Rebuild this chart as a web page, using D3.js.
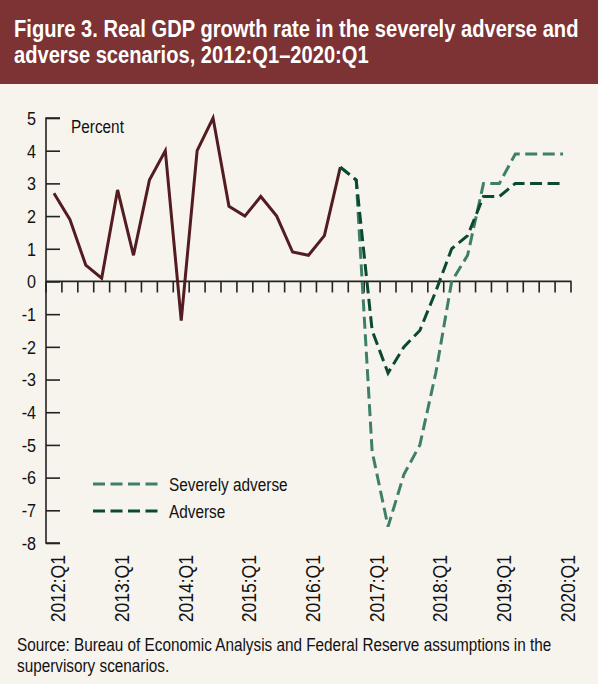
<!DOCTYPE html>
<html>
<head>
<meta charset="utf-8">
<script src="https://cdn.jsdelivr.net/npm/d3@7.9.0/dist/d3.min.js"></script>
<style>
  body { margin: 0; background: #f7f4ee; }
  svg text { font-family: "Liberation Sans", Arial, sans-serif; fill: #111; }
</style>
</head>
<body>
<svg id="chart" width="598" height="684"></svg>
<script>
// quarters 2012:Q1 .. 2020:Q1
const quarters = [];
for (let y = 2012; y <= 2020; y++) {
  for (let q = 1; q <= 4; q++) {
    if (y === 2020 && q > 1) break;
    quarters.push(`${y}:Q${q}`);
  }
}
const yearLabels = ["2012:Q1", "2013:Q1", "2014:Q1", "2015:Q1", "2016:Q1",
                    "2017:Q1", "2018:Q1", "2019:Q1", "2020:Q1"];
const yTicks = [5, 4, 3, 2, 1, 0, -1, -2, -3, -4, -5, -6, -7, -8];

// history 2012:Q1 - 2016:Q3
const history = [2.7, 1.9, 0.5, 0.1, 2.8, 0.8, 3.1, 4.0, -1.2, 4.0, 5.0, 2.3,
                 2.0, 2.6, 2.0, 0.9, 0.8, 1.4, 3.5];
// scenarios 2016:Q3 - 2020:Q1
const severelyAdverse = [3.5, 3.1, -5.2, -7.5, -5.9, -5.0, -2.8, 0.0, 0.8,
                         3.0, 3.0, 3.9, 3.9, 3.9, 3.9];
const adverse = [3.5, 3.1, -1.5, -2.8, -2.0, -1.5, -0.3, 1.0, 1.4,
                 2.6, 2.6, 3.0, 3.0, 3.0, 3.0];

const svg = d3.select('#chart');

// condensed text: the reference uses a narrow face, so squeeze horizontally
function addText(tx, ty, str, size, sx, rot) {
  return svg.append('text')
    .attr('transform', `translate(${tx},${ty})${rot ? ` rotate(${rot})` : ''} scale(${sx},1)`)
    .style('font-size', size + 'px')
    .text(str);
}

// header band
svg.append('rect').attr('x', 0).attr('y', 0).attr('width', 598).attr('height', 84)
  .attr('fill', '#7d3233');
const titleLines = ["Figure 3. Real GDP growth rate in the severely adverse and",
                    "adverse scenarios, 2012:Q1\u20132020:Q1"];
titleLines.forEach((t, i) => {
  addText(14, 37 + i * 26, t, 23, 0.875)
    .style('fill', '#fff')
    .style('font-weight', 'bold');
});

const x = d3.scaleBand().domain(quarters).range([46, 571]);
const y = d3.scaleLinear().domain([-8, 5]).range([543, 118]);
const cx = (q) => x(q) + x.bandwidth() / 2;

// y axis: vertical line with inward ticks
const yAxis = d3.axisRight(y).tickValues(yTicks).tickSize(14).tickFormat('');
const gy = svg.append('g').attr('transform', 'translate(46,0)').call(yAxis);
gy.select('.domain').attr('d', `M14,${y(5)}H0V${y(-8)}H14`);
gy.selectAll('line, path').attr('stroke', '#222').attr('stroke-width', 1.6);

yTicks.forEach(v => {
  addText(36, y(v), v, 19, 0.85)
    .attr('dy', '0.36em')
    .attr('text-anchor', 'end');
});

// zero line with quarterly ticks
const xTicks = quarters.map(q => x(q)).concat([x.range()[1]]);
const zero = svg.append('g');
zero.append('line')
  .attr('x1', 46).attr('x2', 571.5).attr('y1', y(0)).attr('y2', y(0))
  .attr('stroke', '#222').attr('stroke-width', 1.8);
zero.selectAll('line.tk').data(xTicks).join('line').attr('class', 'tk')
  .attr('x1', d => d).attr('x2', d => d)
  .attr('y1', y(0)).attr('y2', y(0) + 11)
  .attr('stroke', '#222').attr('stroke-width', 1.6);

// x labels
yearLabels.forEach(l => {
  addText(cx(l) + 4.5, 555, l, 19.5, 0.9, -90)
    .attr('text-anchor', 'end')
    .attr('dy', '0.36em');
});

addText(71, 133, 'Percent', 18.5, 0.83);

const line = d3.line().x(d => cx(d.q)).y(d => y(d.v));
const histData = history.map((v, i) => ({ q: quarters[i], v }));
const start = history.length - 1;
const sevData = severelyAdverse.map((v, i) => ({ q: quarters[start + i], v }));
const advData = adverse.map((v, i) => ({ q: quarters[start + i], v }));

svg.append('path').datum(histData).attr('d', line)
  .attr('fill', 'none').attr('stroke', '#521c20').attr('stroke-width', 3)
  .attr('stroke-linejoin', 'miter');
svg.append('path').datum(sevData).attr('d', line)
  .attr('fill', 'none').attr('stroke', '#3f7f6a').attr('stroke-width', 3)
  .attr('stroke-dasharray', '12,5.5');
svg.append('path').datum(advData).attr('d', line)
  .attr('fill', 'none').attr('stroke', '#0b4a2e').attr('stroke-width', 3)
  .attr('stroke-dasharray', '12,5.5');

// legend
const legend = [
  { label: 'Severely adverse', color: '#3f7f6a', y: 484 },
  { label: 'Adverse', color: '#0b4a2e', y: 511 }
];
legend.forEach(d => {
  svg.append('line').attr('x1', 93).attr('x2', 158).attr('y1', d.y).attr('y2', d.y)
    .attr('stroke', d.color).attr('stroke-width', 3).attr('stroke-dasharray', '12,5.5');
  addText(169, d.y + 6.5, d.label, 18.5, 0.83);
});

// source
const source = ["Source: Bureau of Economic Analysis and Federal Reserve assumptions in the",
                "supervisory scenarios."];
source.forEach((t, i) => {
  addText(17, 651 + i * 21, t, 18.5, 0.828);
});
</script>
</body>
</html>
